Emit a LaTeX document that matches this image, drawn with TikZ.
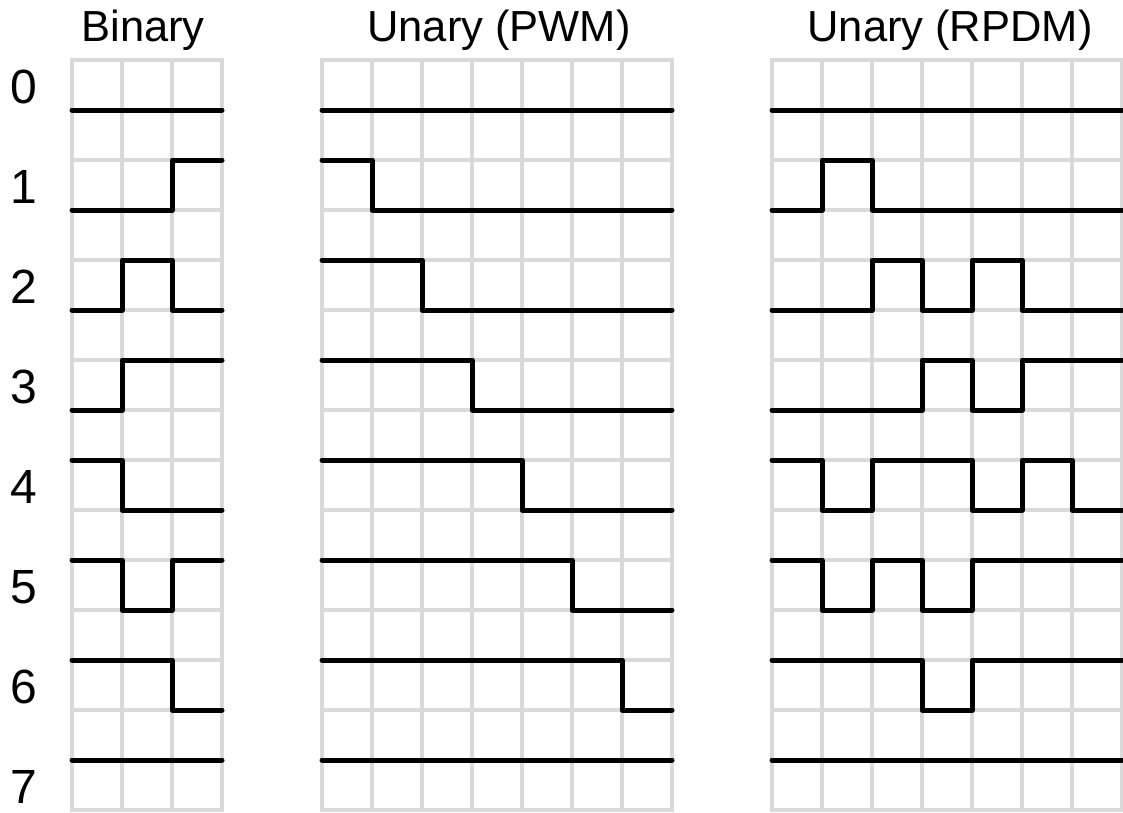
\documentclass[tikz,border=0pt]{standalone}
\usepackage{fontspec}
\setmainfont{Liberation Sans}
\definecolor{gridgray}{HTML}{D9D9D9}
\tikzset{
  gridline/.style={draw=gridgray, line width=4.6pt, line cap=rect},
  sig/.style={draw=black, line width=5pt, line cap=round, line join=round},
  title/.style={font=\fontsize{43.5}{50}\selectfont, anchor=base},
  level/.style={font=\fontsize{48}{54}\selectfont, anchor=base}
}
% grid of #2 columns starting at x = #1
\newcommand\tgrid[2]{%
  \foreach \c in {0,...,#2}{\draw[gridline] ({#1+50*\c},60) -- ({#1+50*\c},810);}
  \foreach \r in {0,...,15}{\draw[gridline] (#1,{60+50*\r}) -- ({#1+50*#2},{60+50*\r});}
}
% waveform in row #2 of the grid at x = #1, first bit #3, bits #4
\newcommand\wave[4]{%
  \draw[sig] (#1,{110+100*#2-50*#3})
    \foreach \b [count=\i from 0] in {#4}{
      -- ({#1+50*\i},{110+100*#2-50*\b}) -- ({#1+50*(\i+1)},{110+100*#2-50*\b})
    };
}
\begin{document}
\begin{tikzpicture}[x=1pt,y=-1pt]
\useasboundingbox (0,0) rectangle (1123,812);
% grids
\tgrid{72}{3}
\tgrid{322}{7}
\tgrid{772}{7}
% titles
\node[title] (tbin) at (143,41) {Binary};
\node[title] (tpwm) at (499,41) {Unary (PWM)};
\node[title] (trpdm) at (950,41) {Unary (RPDM)};
% level labels
\foreach \k in {0,...,7}{\node[level] (lv\k) at (23.5,{103+100*\k}) {\k};}
% binary
\wave{72}{0}{0}{0,0,0}
\wave{72}{1}{0}{0,0,1}
\wave{72}{2}{0}{0,1,0}
\wave{72}{3}{0}{0,1,1}
\wave{72}{4}{1}{1,0,0}
\wave{72}{5}{1}{1,0,1}
\wave{72}{6}{1}{1,1,0}
\wave{72}{7}{1}{1,1,1}
% unary, pulse-width modulation
\wave{322}{0}{0}{0,0,0,0,0,0,0}
\wave{322}{1}{1}{1,0,0,0,0,0,0}
\wave{322}{2}{1}{1,1,0,0,0,0,0}
\wave{322}{3}{1}{1,1,1,0,0,0,0}
\wave{322}{4}{1}{1,1,1,1,0,0,0}
\wave{322}{5}{1}{1,1,1,1,1,0,0}
\wave{322}{6}{1}{1,1,1,1,1,1,0}
\wave{322}{7}{1}{1,1,1,1,1,1,1}
% unary, random pulse density modulation
\wave{772}{0}{0}{0,0,0,0,0,0,0}
\wave{772}{1}{0}{0,1,0,0,0,0,0}
\wave{772}{2}{0}{0,0,1,0,1,0,0}
\wave{772}{3}{0}{0,0,0,1,0,1,1}
\wave{772}{4}{1}{1,0,1,1,0,1,0}
\wave{772}{5}{1}{1,0,1,0,1,1,1}
\wave{772}{6}{1}{1,1,1,0,1,1,1}
\wave{772}{7}{1}{1,1,1,1,1,1,1}
\end{tikzpicture}
\end{document}
